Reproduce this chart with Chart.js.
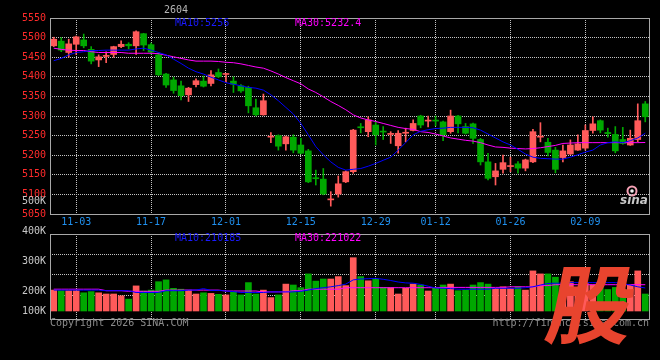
<!DOCTYPE html>
<html>
<head>
<meta charset="utf-8">
<script src="https://cdn.jsdelivr.net/npm/chart.js@4.4.1/dist/chart.umd.min.js"></script>
<style>
  html, body { margin: 0; padding: 0; background: #000; }
  #wrap { position: relative; width: 660px; height: 360px; }
  #wrap canvas { position: absolute; left: 0; top: 0; }
</style>
</head>
<body>
<div id="wrap">
  <canvas id="priceChart" width="660" height="360"></canvas>
  <canvas id="volumeChart" width="660" height="360"></canvas>
</div>
<script>
const dates = [
    "10-29","10-30","10-31","11-03","11-04","11-05","11-06","11-07","11-10","11-11",
    "11-12","11-13","11-14","11-17","11-18","11-19","11-20","11-21","11-24","11-25",
    "11-26","11-27","11-28","12-01","12-02","12-03","12-04","12-05","12-08","12-09",
    "12-10","12-11","12-12","12-15","12-16","12-17","12-18","12-19","12-22","12-23",
    "12-24","12-25","12-26","12-29","12-30","12-31","01-05","01-06","01-07","01-08",
    "01-09","01-12","01-13","01-14","01-15","01-16","01-19","01-20","01-21","01-22",
    "01-23","01-26","01-27","01-28","01-29","01-30","02-02","02-03","02-04","02-05",
    "02-06","02-09","02-10","02-11","02-12","02-13","02-24","02-25","02-26","02-27"
];
const labelDates = ["11-03","11-17","12-01","12-15","12-29","01-12","01-26","02-09"];

const opens = [
    5479,5491,5462,5483,5494,5470,5443,5452,5457,5477,
    5483,5479,5510,5482,5456,5407,5392,5377,5354,5380,
    5389,5383,5411,5406,5389,5377,5373,5321,5303,5246,
    5250,5229,5246,5226,5211,5142,5139,5086,5101,5132,
    5158,5272,5260,5277,5261,5253,5224,5256,5263,5300,
    5287,5289,5285,5260,5300,5273,5280,5240,5183,5145,
    5164,5171,5178,5167,5183,5246,5233,5213,5194,5203,
    5213,5218,5263,5288,5258,5253,5240,5226,5240,5331
];
const highs = [
    5501,5500,5496,5504,5509,5477,5456,5464,5478,5492,
    5487,5517,5511,5486,5461,5409,5399,5389,5373,5395,
    5402,5416,5420,5408,5400,5380,5376,5343,5356,5258,
    5252,5249,5252,5243,5215,5162,5166,5107,5147,5160,
    5266,5281,5298,5286,5273,5260,5263,5269,5290,5302,
    5300,5300,5287,5315,5302,5281,5282,5243,5205,5179,
    5200,5195,5184,5190,5266,5283,5243,5220,5226,5239,
    5252,5277,5298,5290,5269,5273,5271,5264,5331,5337
];
const lows = [
    5477,5464,5450,5457,5474,5433,5426,5436,5450,5474,
    5471,5457,5467,5458,5403,5373,5358,5341,5337,5374,
    5374,5377,5398,5385,5360,5360,5308,5300,5302,5232,
    5213,5213,5206,5203,5130,5124,5099,5070,5093,5130,
    5154,5257,5247,5226,5240,5230,5205,5234,5262,5270,
    5272,5275,5237,5256,5257,5254,5230,5175,5137,5124,
    5154,5158,5154,5160,5181,5234,5198,5155,5183,5202,
    5212,5213,5256,5257,5246,5206,5228,5225,5234,5285
];
const closes = [
    5496,5468,5484,5502,5479,5440,5451,5454,5477,5483,
    5479,5515,5481,5463,5405,5379,5365,5352,5371,5390,
    5376,5405,5400,5407,5381,5364,5326,5303,5339,5248,
    5223,5247,5213,5205,5132,5140,5101,5088,5127,5158,
    5264,5270,5290,5252,5259,5255,5256,5258,5281,5277,
    5289,5287,5252,5300,5280,5256,5243,5183,5141,5160,
    5181,5173,5167,5188,5260,5248,5207,5164,5211,5226,
    5229,5263,5280,5264,5255,5211,5230,5243,5288,5298
];
const ma10 = [
    5441,5447,5456,5462,5464,5467,5467,5468,5468,5468,
    5468,5471,5473,5468,5462,5456,5445,5434,5422,5413,
    5407,5399,5392,5385,5381,5377,5373,5371,5366,5354,
    5339,5322,5305,5281,5252,5222,5201,5183,5169,5162,
    5164,5166,5172,5179,5187,5195,5213,5232,5252,5261,
    5265,5268,5269,5271,5271,5271,5270,5264,5254,5244,
    5234,5226,5215,5203,5195,5192,5191,5190,5190,5195,
    5201,5208,5213,5226,5232,5234,5232,5237,5244,5256
];
const ma30 = [
    5473,5470,5468,5467,5467,5464,5462,5462,5462,5462,
    5460,5460,5460,5460,5459,5455,5451,5447,5443,5440,
    5440,5440,5439,5437,5436,5433,5429,5425,5422,5415,
    5407,5398,5390,5382,5369,5360,5349,5337,5327,5316,
    5303,5295,5290,5286,5281,5276,5271,5268,5266,5260,
    5258,5254,5249,5244,5241,5238,5236,5232,5226,5221,
    5220,5218,5217,5216,5217,5219,5222,5225,5230,5231,
    5232,5232,5232,5232,5232,5232,5232,5232,5232,5232.4
];
const volumes = [
    203000,201000,201000,201000,194000,198000,194000,190000,190000,184000,
    173000,217000,200000,203000,231000,237000,209000,206000,203000,190000,
    194000,192000,189000,187000,198000,187000,228000,190000,203000,178000,
    187000,223000,220000,211000,257000,233000,240000,240000,248000,218000,
    311000,248000,234000,239000,212000,211000,190000,209000,223000,220000,
    200000,209000,220000,223000,201000,203000,220000,228000,223000,209000,
    214000,209000,214000,203000,267000,257000,257000,246000,215000,231000,
    210000,225000,220000,215000,205000,212000,205000,220000,267000,190000
];
const volMa10 = [
    203000,203000,203000,203000,203000,203000,203000,201000,201000,201000,
    201000,195000,195000,195000,195000,201000,201000,201000,203000,203000,
    208000,202000,202000,200000,198000,195000,195000,195000,195000,197000,
    197000,197000,197000,199000,203000,208000,211000,214000,218000,223000,
    237000,240000,241000,242000,239000,235000,230000,227000,226000,222000,
    216000,210000,209000,208000,206000,206000,206000,206000,206000,209000,
    209000,209000,209000,211000,214000,220000,225000,226000,226000,228000,
    228000,228000,228000,228000,228000,228000,225000,220000,214000,210185
];
const volMa30 = [
    206000,206000,206000,206000,206000,206000,206000,201000,201000,201000,
    199000,199000,199000,199000,199000,203000,203000,203000,203000,203000,
    203000,203000,203000,200000,200000,200000,200000,200000,197000,197000,
    197000,197000,201000,201000,206000,206000,206000,206000,206000,211000,
    211000,211000,211000,211000,211000,211000,211000,211000,211000,211000,
    211000,211000,212000,212000,212000,212000,212000,212000,212000,212000,
    212000,214000,214000,214000,214000,218000,218000,221000,221000,221000,
    221000,221000,221000,221000,221000,221000,221000,221000,221000,221022
];

// volume axis: labels as the source shows them (the lowest one sits on the bar base)
const volTickValues = [133333, 200000, 300000, 400000, 500000];
const volTickLabels = ["100K", "200K", "300K", "400K", "500K"];
const volBase = 133333;

const UP = "#ff5a5a";
const DOWN = "#00a800";
const GRID = "#c4c4c4";
const FRAME = "#a8a8a8";
const MONO = "'DejaVu Sans Mono', monospace";

Chart.defaults.font.family = MONO;
Chart.defaults.font.size = 10;

const candleColors = opens.map((o, i) => closes[i] >= o ? UP : DOWN);
const isLabelDate = i => labelDates.includes(dates[i]);

// solid frame round the plot area
const framePlugin = {
    id: "frame",
    afterDraw(chart) {
        const { ctx, chartArea: a } = chart;
        ctx.save();
        ctx.strokeStyle = FRAME;
        ctx.lineWidth = 1;
        ctx.strokeRect(Math.round(a.left) + 0.5, Math.round(a.top) + 0.5,
            Math.round(a.right - a.left), Math.round(a.bottom - a.top));
        ctx.restore();
    }
};

const xGrid = {
    color: ctx => isLabelDate(ctx.index) ? GRID : "rgba(0,0,0,0)",
    offset: false,
    drawTicks: false,
};

new Chart(document.getElementById("priceChart"), {
    type: "bar",
    data: {
        labels: dates,
        datasets: [
            { type: "line", label: "MA10", data: ma10, borderColor: "#0000ff", borderWidth: 1, pointRadius: 0, order: 0 },
            { type: "line", label: "MA30", data: ma30, borderColor: "#ff00ff", borderWidth: 1, pointRadius: 0, order: 0 },
            {
                label: "wick",
                data: lows.map((l, i) => [l, highs[i]]),
                backgroundColor: candleColors,
                barThickness: 1,
                grouped: false,
                order: 2,
            },
            {
                label: "body",
                data: opens.map((o, i) => [o, closes[i]]),
                backgroundColor: candleColors,
                barThickness: 6,
                minBarLength: 1,
                grouped: false,
                order: 1,
            }
        ],
    },
    options: {
        responsive: false,
        animation: false,
        layout: { padding: { top: 18, right: 11, left: 0, bottom: 0 } },
        plugins: { legend: { display: false }, tooltip: { enabled: false } },
        scales: {
            x: {
                grid: xGrid,
                border: { display: false, dash: [1, 1] },
                ticks: {
                    autoSkip: false,
                    maxRotation: 0,
                    padding: 2,
                    color: "#2090ee",
                    callback: (v, i) => isLabelDate(i) ? dates[i] : "",
                },
                afterFit: s => { s.height = 146; },
            },
            y: {
                min: 5050,
                max: 5550,
                ticks: { stepSize: 50, color: "#ff2b2b", padding: 4, callback: v => String(v) },
                grid: { color: GRID, drawTicks: false },
                border: { display: false, dash: [1, 1] },
                afterFit: s => { s.width = 50; },
            }
        },
    },
    plugins: [framePlugin],
});

// texts, watermark and logo drawn over everything
const textPlugin = {
    id: "texts",
    afterDraw(chart) {
        const ctx = chart.ctx;
        ctx.save();
        ctx.textBaseline = "middle";
        ctx.textAlign = "left";
        ctx.font = "10px " + MONO;

        ctx.fillStyle = "#b4b4b4";
        ctx.fillText("2604", 164, 10);

        ctx.fillStyle = "#1a1aff";
        ctx.fillText("MA10:" + ma10[ma10.length - 1], 175, 23);
        ctx.fillText("MA10:" + volMa10[volMa10.length - 1], 175, 238);
        ctx.fillStyle = "#ff00ff";
        ctx.fillText("MA30:" + ma30[ma30.length - 1], 295, 23);
        ctx.fillText("MA30:" + volMa30[volMa30.length - 1], 295, 238);

        ctx.fillStyle = "#8c8c8c";
        ctx.fillText("Copyright 2026 SINA.COM", 50, 323);
        ctx.textAlign = "right";
        ctx.fillText("http://finance.sina.com.cn", 649, 323);

        // sina logo
        ctx.strokeStyle = "#f4a0b4";
        ctx.lineWidth = 2;
        ctx.beginPath();
        ctx.arc(632, 191, 4.5, 0, Math.PI * 2);
        ctx.stroke();
        ctx.fillStyle = "#f0f0f0";
        ctx.beginPath();
        ctx.arc(632, 191, 1.8, 0, Math.PI * 2);
        ctx.fill();
        ctx.fillStyle = "#c8c8c8";
        ctx.textAlign = "left";
        ctx.font = "italic bold 12px 'DejaVu Sans'";
        ctx.fillText("sina", 620, 201);

        // big watermark character
        ctx.translate(592, 304);
        ctx.transform(1, 0, -0.2, 1, 0, 0);
        ctx.textAlign = "center";
        ctx.font = "bold 86px 'Noto Sans CJK SC'";
        ctx.fillStyle = "#e8442e";
        ctx.fillText("股", 0, 0);
        ctx.restore();
    }
};

new Chart(document.getElementById("volumeChart"), {
    type: "bar",
    data: {
        labels: dates,
        datasets: [
            { type: "line", label: "MA10", data: volMa10, borderColor: "#0000ff", borderWidth: 1, pointRadius: 0, order: 0 },
            { type: "line", label: "MA30", data: volMa30, borderColor: "#ff00ff", borderWidth: 1, pointRadius: 0, order: 0 },
            {
                label: "volume",
                data: volumes.map(v => [volBase, v]),
                backgroundColor: candleColors,
                barThickness: 6,
                grouped: false,
                order: 1,
            }
        ],
    },
    options: {
        responsive: false,
        animation: false,
        layout: { padding: { top: 234, right: 11, left: 0, bottom: 41 } },
        plugins: { legend: { display: false }, tooltip: { enabled: false } },
        scales: {
            x: {
                grid: xGrid,
                border: { display: false, dash: [1, 1] },
                ticks: { display: false },
                afterFit: s => { s.height = 0; },
            },
            y: {
                min: 106667,
                max: 390000,
                afterBuildTicks: s => { s.ticks = volTickValues.map(v => ({ value: v })); },
                ticks: {
                    autoSkip: false,
                    color: "#c8c8c8",
                    padding: 4,
                    callback: (v, i) => volTickLabels[i],
                },
                grid: { display: false, drawTicks: false },
                border: { display: false },
                afterFit: s => { s.width = 50; },
            },
            yg: {
                position: "right",
                min: 0,
                max: 1,
                afterBuildTicks: s => { s.ticks = [0.28, 0.52, 0.76].map(v => ({ value: v })); },
                ticks: { display: false },
                grid: { color: GRID, drawTicks: false },
                border: { display: false, dash: [1, 1] },
                afterFit: s => { s.width = 0; },
            }
        },
    },
    plugins: [framePlugin, textPlugin],
});
</script>
</body>
</html>
